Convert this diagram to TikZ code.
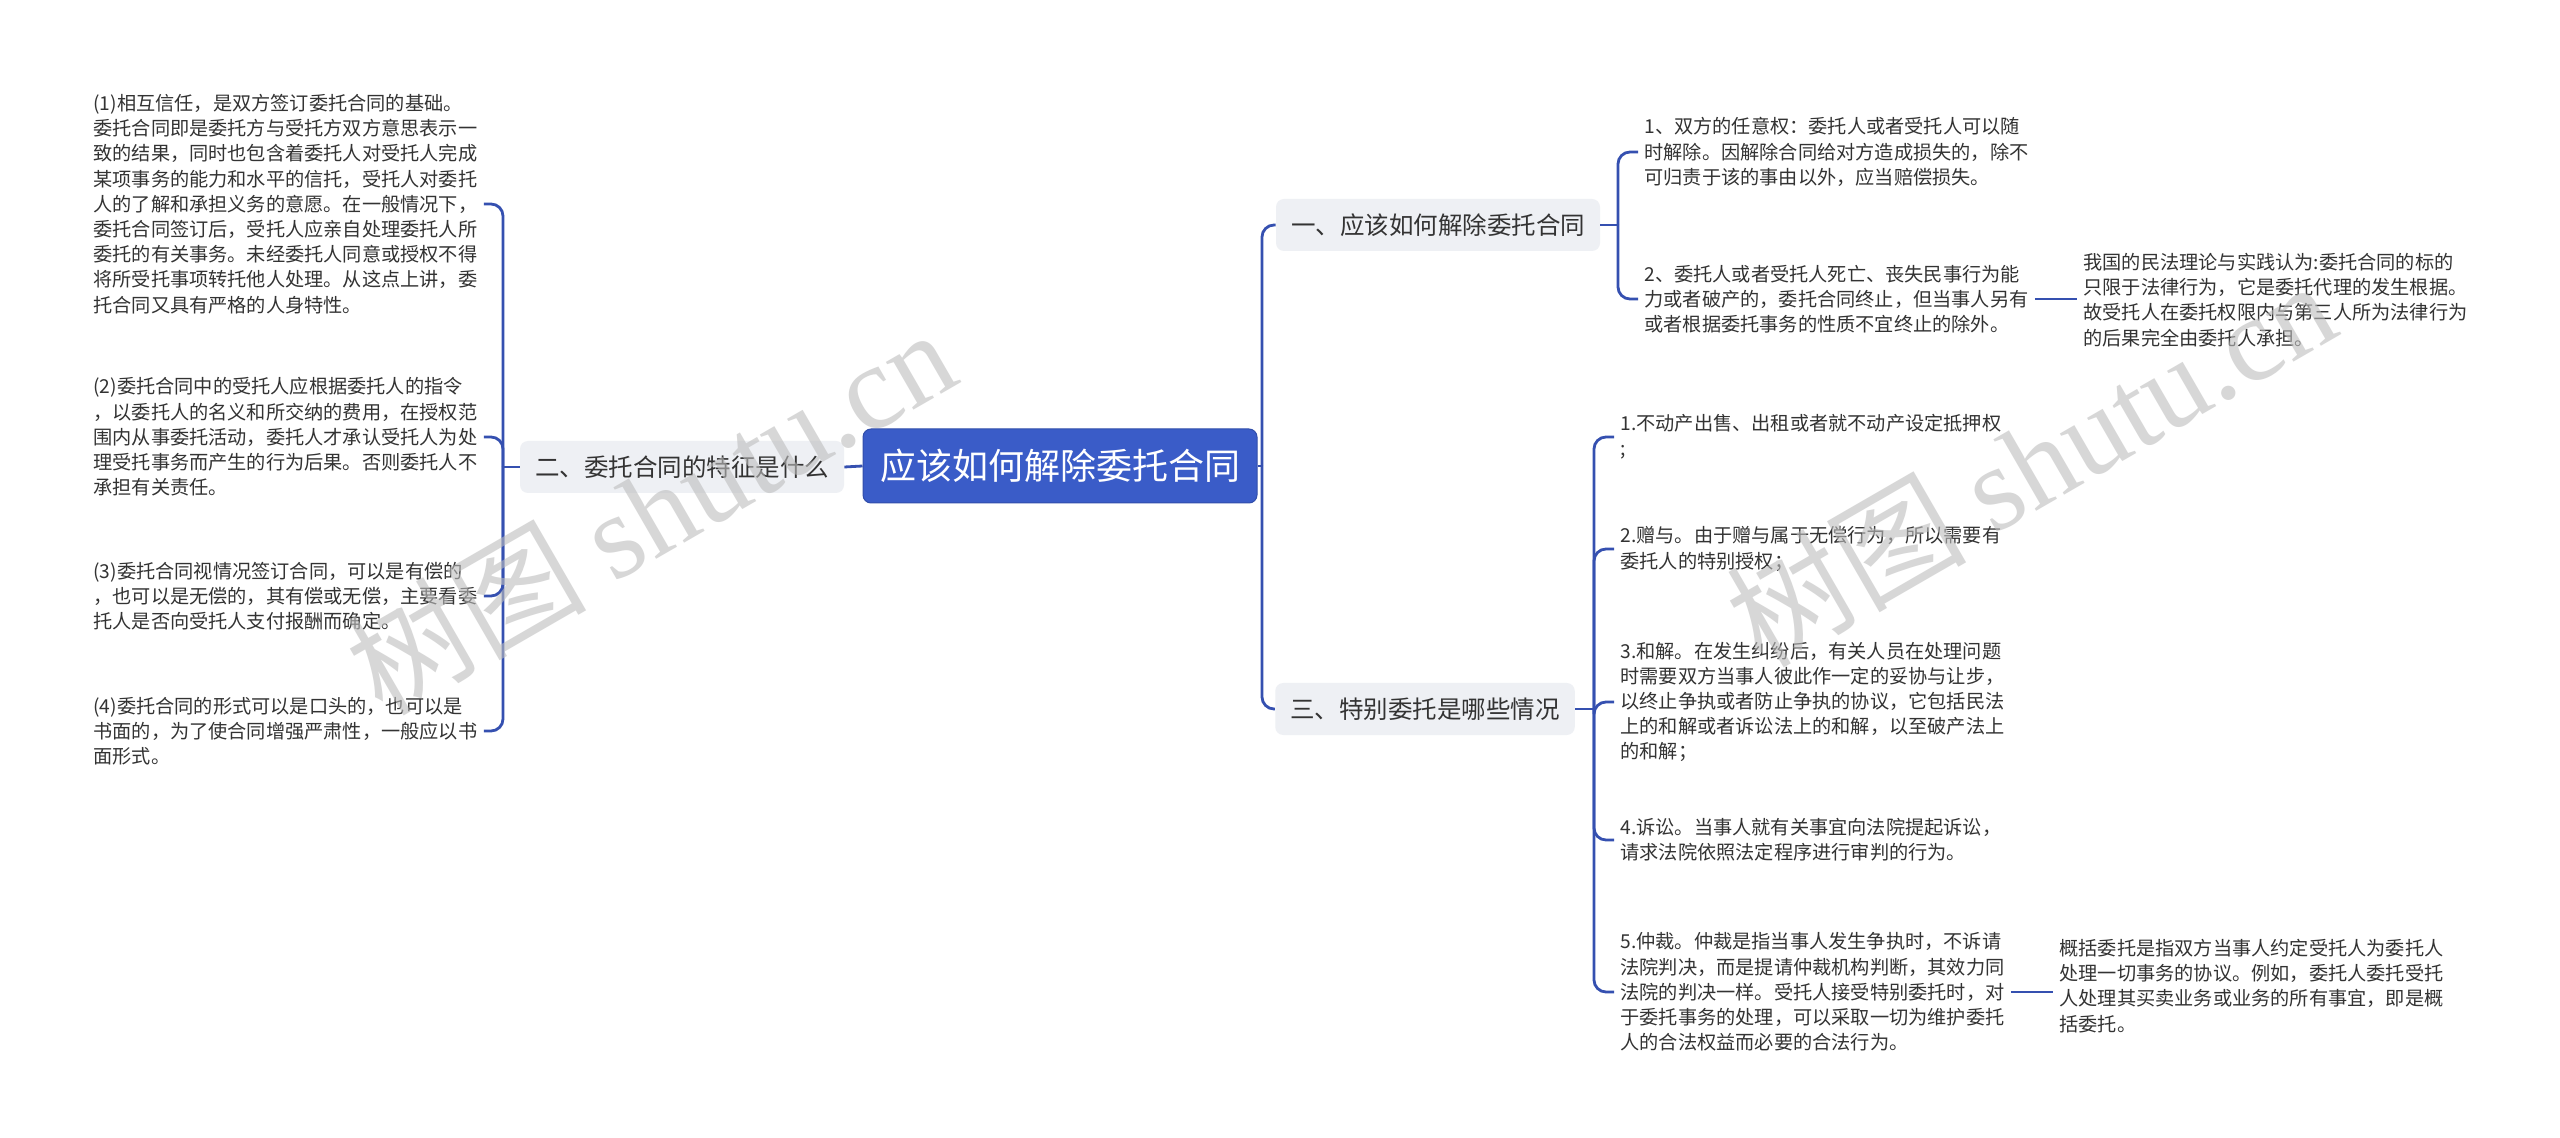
\documentclass[tikz,border=0pt]{standalone}
\usepackage{fontspec}
\setmainfont{Noto Sans CJK SC}
\newfontfamily\wmlatin{Liberation Serif}
\definecolor{conn}{HTML}{3550B0}
\definecolor{rootfill}{HTML}{3A5CC8}
\definecolor{brfill}{HTML}{EEF0F4}
\definecolor{txt}{HTML}{333333}
\definecolor{wm}{HTML}{BDBDBD}
\begin{document}
\begin{tikzpicture}[x=0.5pt,y=-0.5pt,
  link/.style={draw=conn,line width=1.4pt,rounded corners=6pt},
  rootbox/.style={fill=rootfill,draw=rootfill!85!black,line width=0.5pt,rounded corners=4pt,text=white,
    font=\fontsize{18pt}{21pt}\selectfont,minimum height=37pt,inner xsep=8.5pt},
  branch/.style={fill=brfill,rounded corners=4pt,text=txt,font=\fontsize{12.25pt}{14pt}\selectfont,
    minimum height=26pt,inner xsep=7.5pt},
  leaf/.style={text=txt,font=\fontsize{9.6pt}{12.6pt}\selectfont,align=left,inner xsep=3pt,inner ysep=0pt},
  wmark/.style={text=wm,opacity=0.6,font=\fontsize{60pt}{60pt}\selectfont,rotate=30}]
\useasboundingbox[fill=white] (0,0) rectangle (2560,1138);

% root and branches
\node[rootbox] (root) at (1060,466) {应该如何解除委托合同};
\node[branch] (B1) at (1438,225) {一、应该如何解除委托合同};
\node[branch] (B2) at (682,467) {二、委托合同的特征是什么};
\node[branch] (B3) at (1425,709) {三、特别委托是哪些情况};

% left leaves
\node[leaf,anchor=west] (L1) at (87,204) {(1)相互信任，是双方签订委托合同的基础。\\委托合同即是委托方与受托方双方意思表示一\\致的结果，同时也包含着委托人对受托人完成\\某项事务的能力和水平的信托，受托人对委托\\人的了解和承担义务的意愿。在一般情况下，\\委托合同签订后，受托人应亲自处理委托人所\\委托的有关事务。未经委托人同意或授权不得\\将所受托事项转托他人处理。从这点上讲，委\\托合同又具有严格的人身特性。};
\node[leaf,anchor=west] (L2) at (87,437) {(2)委托合同中的受托人应根据委托人的指令\\，以委托人的名义和所交纳的费用，在授权范\\围内从事委托活动，委托人才承认受托人为处\\理受托事务而产生的行为后果。否则委托人不\\承担有关责任。};
\node[leaf,anchor=west] (L3) at (87,596) {(3)委托合同视情况签订合同，可以是有偿的\\，也可以是无偿的，其有偿或无偿，主要看委\\托人是否向受托人支付报酬而确定。};
\node[leaf,anchor=west] (L4) at (87,731) {(4)委托合同的形式可以是口头的，也可以是\\书面的，为了使合同增强严肃性，一般应以书\\面形式。};

% right leaves of branch 1
\node[leaf,anchor=west] (L11) at (1638,152) {1、双方的任意权：委托人或者受托人可以随\\时解除。因解除合同给对方造成损失的，除不\\可归责于该的事由以外，应当赔偿损失。};
\node[leaf,anchor=west] (L12) at (1638,299) {2、委托人或者受托人死亡、丧失民事行为能\\力或者破产的，委托合同终止，但当事人另有\\或者根据委托事务的性质不宜终止的除外。};
\node[leaf,anchor=west] (L121) at (2077,300) {我国的民法理论与实践认为:委托合同的标的\\只限于法律行为，它是委托代理的发生根据。\\故受托人在委托权限内与第三人所为法律行为\\的后果完全由委托人承担。};

% right leaves of branch 3
\node[leaf,anchor=west] (L31) at (1614,437) {1.不动产出售、出租或者就不动产设定抵押权\\;};
\node[leaf,anchor=west] (L32) at (1614,549) {2.赠与。由于赠与属于无偿行为，所以需要有\\委托人的特别授权；};
\node[leaf,anchor=west] (L33) at (1614,702) {3.和解。在发生纠纷后，有关人员在处理问题\\时需要双方当事人彼此作一定的妥协与让步，\\以终止争执或者防止争执的协议，它包括民法\\上的和解或者诉讼法上的和解，以至破产法上\\的和解；};
\node[leaf,anchor=west] (L34) at (1614,840) {4.诉讼。当事人就有关事宜向法院提起诉讼，\\请求法院依照法定程序进行审判的行为。};
\node[leaf,anchor=west] (L35) at (1614,992) {5.仲裁。仲裁是指当事人发生争执时，不诉请\\法院判决，而是提请仲裁机构判断，其效力同\\法院的判决一样。受托人接受特别委托时，对\\于委托事务的处理，可以采取一切为维护委托\\人的合法权益而必要的合法行为。};
\node[leaf,anchor=west] (L351) at (2053,986) {概括委托是指双方当事人约定受托人为委托人\\处理一切事务的协议。例如，委托人委托受托\\人处理其买卖业务或业务的所有事宜，即是概\\括委托。};

% junctions
\coordinate (jR) at (1262,466);
\coordinate (jL) at (503,467);
\coordinate (jB1) at (1618,225);
\coordinate (jB3) at (1594,709);

% connectors
\draw[link] (root.east) -- (jR);
\draw[link] (jR) |- (B1.west);
\draw[link] (jR) |- (B3.west);
\draw[link] (root.west) -- (B2.east);
\draw[link] (B2.west) -- (jL);
\draw[link] (jL) |- (L1.east);
\draw[link] (jL) |- (L2.east);
\draw[link] (jL) |- (L3.east);
\draw[link] (jL) |- (L4.east);
\draw[link] (B1.east) -- (jB1);
\draw[link] (jB1) |- (L11.west);
\draw[link] (jB1) |- (L12.west);
\draw[link] (L12.east) -- (L12.east -| L121.west);
\draw[link] (B3.east) -- (jB3);
\draw[link] (jB3) |- (L31.west);
\draw[link] (jB3) |- (L32.west);
\draw[link] (jB3) |- (L33.west);
\draw[link] (jB3) |- (L34.west);
\draw[link] (jB3) |- (L35.west);
\draw[link] (L35.east) -- (L35.east -| L351.west);

% watermarks
\node[wmark] (wm1) at (650,510) {树图 {\wmlatin shutu.cn}};
\node[wmark] (wm2) at (2030,462) {树图 {\wmlatin shutu.cn}};
\end{tikzpicture}
\end{document}
